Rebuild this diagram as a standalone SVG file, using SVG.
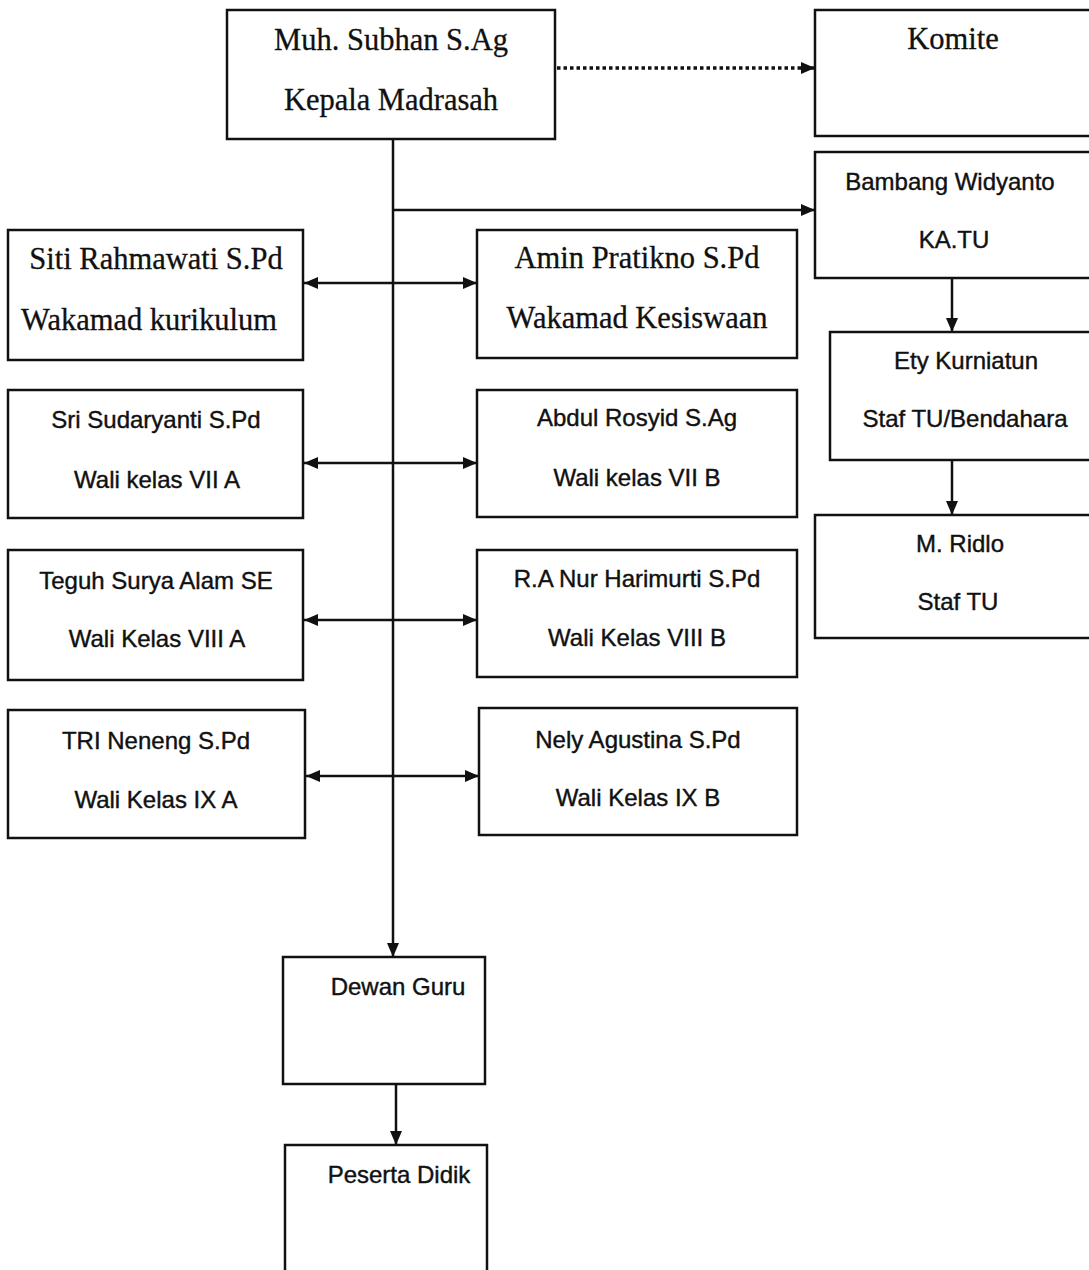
<svg xmlns="http://www.w3.org/2000/svg" width="1089" height="1270" viewBox="0 0 1089 1270">
<style>
.box{fill:#fff;stroke:#111;stroke-width:2.5}
.serif{font-family:"Liberation Serif","Times New Roman",serif;font-size:30.5px;fill:#111;stroke:#111;stroke-width:0.3;text-anchor:middle}
.sans{font-family:"Liberation Sans",Arial,sans-serif;font-size:24px;fill:#111;stroke:#111;stroke-width:0.4;text-anchor:middle}
.ln{stroke:#111;stroke-width:2.5;fill:none}
.dot{stroke:#111;stroke-width:3.5;fill:none;stroke-dasharray:3.5 3}
</style>
<defs>
<marker id="ah" viewBox="0 0 14 12" refX="14" refY="6" markerWidth="14" markerHeight="12" markerUnits="userSpaceOnUse" orient="auto-start-reverse">
<path d="M0,0 L14,6 L0,12 Z" fill="#111"/>
</marker>
</defs>
<rect width="1089" height="1270" fill="#fff"/>

<g id="connectors">
<line class="dot" x1="557" y1="68" x2="815" y2="68" marker-end="url(#ah)"/>
<line class="ln" x1="393" y1="139" x2="393" y2="957" marker-end="url(#ah)"/>
<line class="ln" x1="393" y1="210" x2="815" y2="210" marker-end="url(#ah)"/>
<line class="ln" x1="952" y1="278" x2="952" y2="332" marker-end="url(#ah)"/>
<line class="ln" x1="952" y1="460" x2="952" y2="515" marker-end="url(#ah)"/>
<line class="ln" x1="304" y1="283" x2="477" y2="283" marker-start="url(#ah)" marker-end="url(#ah)"/>
<line class="ln" x1="304" y1="463" x2="477" y2="463" marker-start="url(#ah)" marker-end="url(#ah)"/>
<line class="ln" x1="304" y1="620" x2="477" y2="620" marker-start="url(#ah)" marker-end="url(#ah)"/>
<line class="ln" x1="306" y1="776" x2="479" y2="776" marker-start="url(#ah)" marker-end="url(#ah)"/>
<line class="ln" x1="396" y1="1084" x2="396" y2="1145" marker-end="url(#ah)"/>
</g>

<g id="kepala">
<rect class="box" x="227" y="10" width="328" height="129"/>
<text class="serif" x="391" y="50">Muh. Subhan S.Ag</text>
<text class="serif" x="391" y="110">Kepala Madrasah</text>
</g>
<g id="komite">
<rect class="box" x="815" y="10" width="280" height="126"/>
<text class="serif" x="953" y="49">Komite</text>
</g>
<g id="katu">
<rect class="box" x="815" y="152" width="280" height="126"/>
<text class="sans" x="950" y="190">Bambang Widyanto</text>
<text class="sans" x="954" y="248">KA.TU</text>
</g>
<g id="bendahara">
<rect class="box" x="830" y="332" width="265" height="128"/>
<text class="sans" x="966" y="369">Ety Kurniatun</text>
<text class="sans" x="965" y="427">Staf TU/Bendahara</text>
</g>
<g id="staftu">
<rect class="box" x="815" y="515" width="280" height="123"/>
<text class="sans" x="960" y="552">M. Ridlo</text>
<text class="sans" x="958" y="610">Staf TU</text>
</g>
<g id="kurikulum">
<rect class="box" x="8" y="230" width="295" height="130"/>
<text class="serif" x="156" y="269">Siti Rahmawati S.Pd</text>
<text class="serif" x="149" y="330">Wakamad kurikulum</text>
</g>
<g id="kesiswaan">
<rect class="box" x="477" y="230" width="320" height="128"/>
<text class="serif" x="637" y="268">Amin Pratikno S.Pd</text>
<text class="serif" x="637" y="328">Wakamad Kesiswaan</text>
</g>
<g id="vii-a">
<rect class="box" x="8" y="390" width="295" height="128"/>
<text class="sans" x="156" y="428">Sri Sudaryanti S.Pd</text>
<text class="sans" x="157" y="488">Wali kelas VII A</text>
</g>
<g id="vii-b">
<rect class="box" x="477" y="390" width="320" height="127"/>
<text class="sans" x="637" y="426">Abdul Rosyid S.Ag</text>
<text class="sans" x="637" y="486">Wali kelas VII B</text>
</g>
<g id="viii-a">
<rect class="box" x="8" y="550" width="295" height="130"/>
<text class="sans" x="156" y="589">Teguh Surya Alam SE</text>
<text class="sans" x="157" y="647">Wali Kelas VIII A</text>
</g>
<g id="viii-b">
<rect class="box" x="477" y="550" width="320" height="127"/>
<text class="sans" x="637" y="587">R.A Nur Harimurti S.Pd</text>
<text class="sans" x="637" y="646">Wali Kelas VIII B</text>
</g>
<g id="ix-a">
<rect class="box" x="8" y="710" width="297" height="128"/>
<text class="sans" x="156" y="749">TRI Neneng S.Pd</text>
<text class="sans" x="156" y="808">Wali Kelas IX A</text>
</g>
<g id="ix-b">
<rect class="box" x="479" y="708" width="318" height="127"/>
<text class="sans" x="638" y="748">Nely Agustina S.Pd</text>
<text class="sans" x="638" y="806">Wali Kelas IX B</text>
</g>
<g id="dewan-guru">
<rect class="box" x="283" y="957" width="202" height="127"/>
<text class="sans" x="398" y="995">Dewan Guru</text>
</g>
<g id="peserta-didik">
<rect class="box" x="285" y="1145" width="202" height="130"/>
<text class="sans" x="399" y="1183">Peserta Didik</text>
</g>
</svg>
